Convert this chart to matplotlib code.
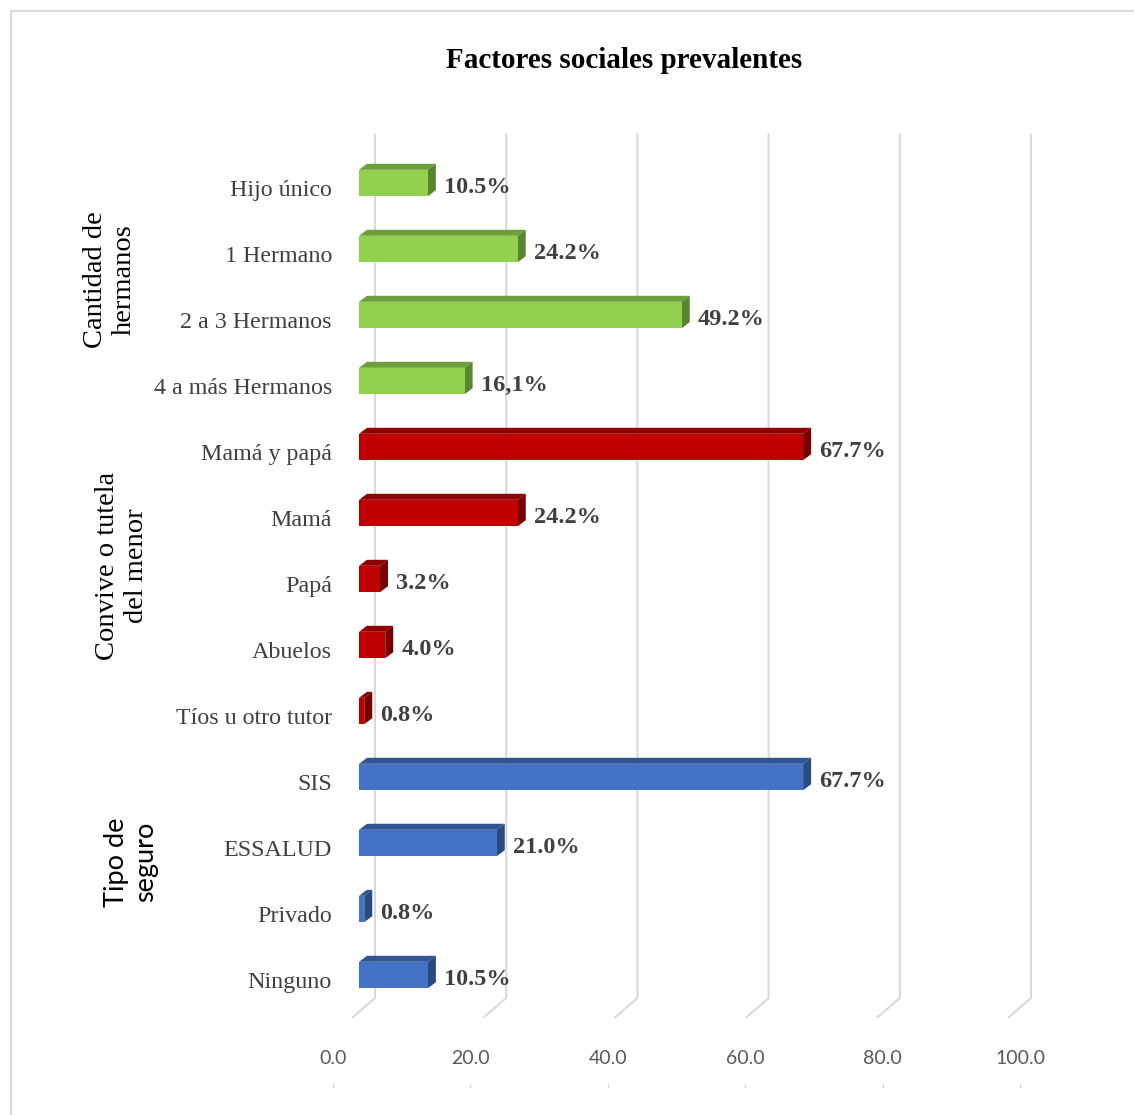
import matplotlib
matplotlib.use("Agg")
import matplotlib.pyplot as plt
from matplotlib.patches import Polygon
from matplotlib.lines import Line2D
from matplotlib.transforms import ScaledTranslation

# ---- data -------------------------------------------------------------
title = "Factores sociales prevalentes"

group_names = ["Cantidad de\nhermanos", "Convive o tutela\ndel menor", "Tipo de\nseguro"]

hermanos_cats = ["Hijo único", "1 Hermano", "2 a 3 Hermanos", "4 a más Hermanos"]
hermanos_vals = [10.5, 24.2, 49.2, 16.1]
hermanos_lbls = ["10.5%", "24.2%", "49.2%", "16,1%"]

convive_cats = ["Mamá y papá", "Mamá", "Papá", "Abuelos", "Tíos u otro tutor"]
convive_vals = [67.7, 24.2, 3.2, 4.0, 0.8]
convive_lbls = ["67.7%", "24.2%", "3.2%", "4.0%", "0.8%"]

seguro_cats = ["SIS", "ESSALUD", "Privado", "Ninguno"]
seguro_vals = [67.7, 21.0, 0.8, 10.5]
seguro_lbls = ["67.7%", "21.0%", "0.8%", "10.5%"]

x_ticks = [0, 20, 40, 60, 80, 100]

# face colours: front, top, side
palettes = [
    ("#92D050", "#6E9E3A", "#5A8530"),
    ("#C00000", "#8E0000", "#760000"),
    ("#4472C4", "#2F5597", "#2A4A82"),
]

SERIF = "Liberation Serif"
SANS = "Lato"

# ---- figure -----------------------------------------------------------
W, H = 1134, 1115
fig = plt.figure(figsize=(W / 100, H / 100), dpi=100)
fig.patch.set_facecolor("white")

# main plotting area: value 0 sits at x=359 px, 6.56 px per unit,
# category 0 centred at y=183 px, 66 px per category
px_per_x, px_per_y = 6.56, 66.0
x0_px, y0_px = 359.0, 183.0
xmin, xmax = -2.0, 104.0
ytop, ybot = -1.0, 12.8
left_px = x0_px + xmin * px_per_x
right_px = x0_px + xmax * px_per_x
top_px = y0_px + ytop * px_per_y
bot_px = y0_px + ybot * px_per_y
ax = fig.add_axes([left_px / W, 1 - bot_px / H,
                   (right_px - left_px) / W, (bot_px - top_px) / H])
ax.set_xlim(xmin, xmax)
ax.set_ylim(ybot, ytop)
for s in ax.spines.values():
    s.set_visible(False)
ax.set_xticks([])

# 3-D depth offsets in data units
dx_face = 8 / px_per_x
dy_face = -6 / px_per_y
dx_back = 16 / px_per_x
dx_floor = -7 / px_per_x
grid_top, grid_bend, grid_end = -0.75, 12.35, 12.65

# back wall / floor gridlines
for t in x_ticks:
    ax.plot([t + dx_back, t + dx_back, t + dx_floor],
            [grid_top, grid_bend, grid_end],
            color="#D9D9D9", lw=1.5, zorder=0, solid_capstyle="butt")

cats = hermanos_cats + convive_cats + seguro_cats
groups = [(hermanos_vals, hermanos_lbls), (convive_vals, convive_lbls),
          (seguro_vals, seguro_lbls)]

h = 0.4
idx = 0
for (vals, lbls), (c_front, c_top, c_side) in zip(groups, palettes):
    for v, lab in zip(vals, lbls):
        y = idx
        ytop_face = y - h / 2
        ybot_face = y + h / 2
        ax.barh(y, v, height=h, left=0, color=c_front, edgecolor="none",
                zorder=3)
        ax.add_patch(Polygon([(0, ytop_face), (v, ytop_face),
                              (v + dx_face, ytop_face + dy_face),
                              (dx_face, ytop_face + dy_face)],
                             closed=True, facecolor=c_top, edgecolor="none",
                             zorder=2))
        ax.add_patch(Polygon([(v, ytop_face), (v, ybot_face),
                              (v + dx_face, ybot_face + dy_face),
                              (v + dx_face, ytop_face + dy_face)],
                             closed=True, facecolor=c_side, edgecolor="none",
                             zorder=2))
        ax.annotate(lab, xy=(v, y), xytext=(11.5, -3.5),
                    textcoords="offset points", ha="left", va="center",
                    fontsize=17.5, fontweight="bold", family=SERIF,
                    color="#404040", zorder=4)
        idx += 1

# category labels
ax.set_yticks(range(len(cats)))
ax.set_yticklabels(cats, family=SERIF, fontsize=17.3, color="#404040")
ax.tick_params(axis="y", length=0, pad=10)
shift = ScaledTranslation(0, -5 / 100, fig.dpi_scale_trans)
for t in ax.get_yticklabels():
    t.set_transform(t.get_transform() + shift)

# value scale along the bottom
ax2 = fig.add_axes([333 / W, 1 - 1084 / H, (1020 - 333) / W, 0.0005])
ax2.set_xlim(0, 100)
ax2.set_ylim(0, 1)
for s in ax2.spines.values():
    s.set_visible(False)
ax2.set_yticks([])
ax2.xaxis.tick_top()
ax2.set_xticks(x_ticks)
ax2.set_xticklabels([f"{t:.1f}" for t in x_ticks], family=SANS, fontsize=14,
                    color="#595959")
ax2.tick_params(axis="x", direction="in", length=3.5, width=1,
                color="#D9D9D9", pad=12)
ax2.patch.set_visible(False)

# group labels
group_pos = [(110, 280, SERIF, 20.5), (122, 566, SERIF, 20.5),
             (131, 862, SANS, 19.5)]
for name, (gx, gy, fam, fs) in zip(group_names, group_pos):
    fig.text(gx / W, 1 - gy / H, name, rotation=90, ha="center", va="center",
             multialignment="center", family=fam, fontsize=fs, color="black",
             linespacing=1.2)

# title
fig.text(624.5 / W, 1 - 61 / H, title, ha="center", va="center",
         family=SERIF, fontsize=21, fontweight="bold", color="black")

# chart frame (top and left edges)
fig.add_artist(Line2D([11 / W, 1], [1 - 11 / H, 1 - 11 / H],
                      transform=fig.transFigure, color="#D9D9D9", lw=1.5))
fig.add_artist(Line2D([11 / W, 11 / W], [0, 1 - 11 / H],
                      transform=fig.transFigure, color="#D9D9D9", lw=1.5))

fig.savefig("out.png", dpi=100, facecolor="white")
